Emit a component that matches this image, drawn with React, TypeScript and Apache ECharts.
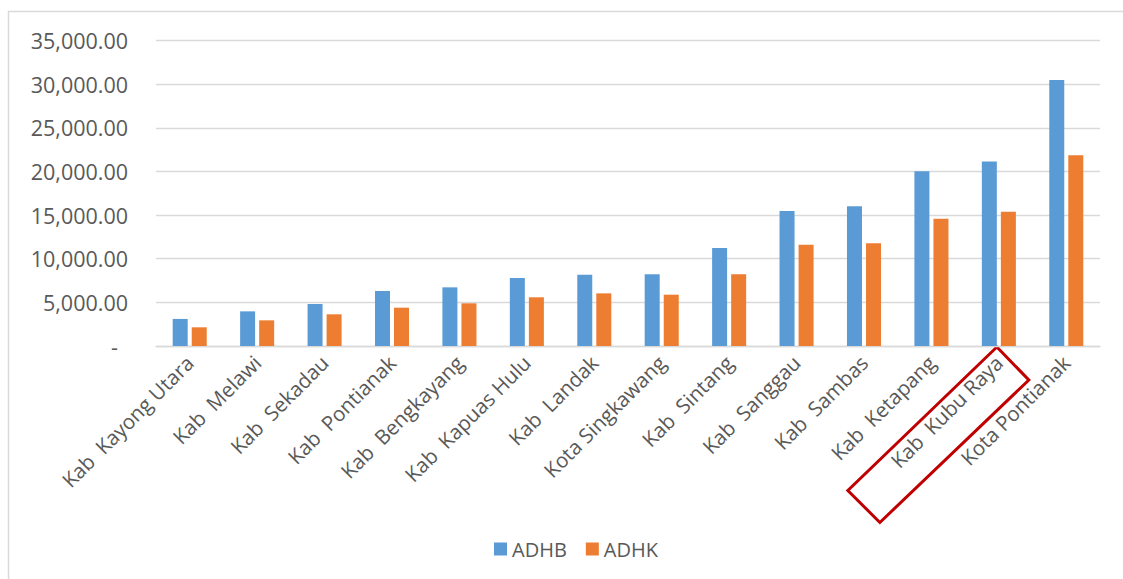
import React, { useEffect, useRef } from "react";
import * as echarts from "echarts";

// Regional GRDP per kabupaten/kota, current (ADHB) vs constant (ADHK) prices
const categories = [
  "Kab  Kayong Utara",
  "Kab  Melawi",
  "Kab  Sekadau",
  "Kab  Pontianak",
  "Kab  Bengkayang",
  "Kab  Kapuas Hulu",
  "Kab  Landak",
  "Kota Singkawang",
  "Kab  Sintang",
  "Kab  Sanggau",
  "Kab  Sambas",
  "Kab  Ketapang",
  "Kab  Kubu Raya",
  "Kota Pontianak",
];

const adhb = [3100, 3970, 4810, 6300, 6720, 7790, 8170, 8210, 11230, 15470, 16000, 20010, 21150, 30470];
const adhk = [2140, 2940, 3630, 4390, 4890, 5580, 6030, 5880, 8210, 11610, 11760, 14590, 15390, 21840];

const seriesNames = ["ADHB", "ADHK"];
const highlighted = "Kab  Kubu Raya";

const FONT = "'Open Sans', 'Noto Sans', sans-serif";
const TEXT = "#595959";
const GRID = "#D9D9D9";

function formatTick(v: number): string {
  if (v === 0) return "{dash|-}";
  return v.toLocaleString("en-US", { minimumFractionDigits: 2, maximumFractionDigits: 2 });
}

export default function App() {
  const ref = useRef<HTMLDivElement>(null);

  useEffect(() => {
    if (!ref.current) return;
    const chart = echarts.init(ref.current, null, { renderer: "svg" });
    chart.setOption({
      animation: false,
      backgroundColor: "#ffffff",
      textStyle: { fontFamily: FONT },
      grid: { left: 156, right: 23, top: 40.5, bottom: 233, containLabel: false },
      legend: {
        data: seriesNames,
        left: 489,
        top: 534,
        itemWidth: 13,
        itemHeight: 13,
        itemGap: 19,
        icon: "rect",
        textStyle: { color: TEXT, fontSize: 20, fontFamily: FONT },
      },
      xAxis: {
        type: "category",
        data: categories,
        axisLine: { lineStyle: { color: GRID, width: 1.3 } },
        axisTick: { show: false },
        axisLabel: {
          interval: 0,
          rotate: 45,
          margin: 13,
          color: TEXT,
          fontSize: 20.5,
          fontFamily: FONT,
        },
      },
      yAxis: {
        type: "value",
        min: 0,
        max: 35000,
        interval: 5000,
        axisLine: { show: false },
        axisTick: { show: false },
        splitLine: { lineStyle: { color: GRID, width: 1.3 } },
        axisLabel: {
          margin: 28,
          color: TEXT,
          fontSize: 21.5,
          fontFamily: FONT,
          formatter: formatTick,
          rich: { dash: { color: TEXT, fontSize: 21.5, fontFamily: FONT, padding: [0, 10, 0, 0] } },
        },
      },
      series: [
        {
          name: seriesNames[0],
          type: "bar",
          data: adhb,
          barWidth: 15,
          barGap: "27%",
          itemStyle: { color: "#5B9BD5" },
        },
        {
          name: seriesNames[1],
          type: "bar",
          data: adhk,
          barWidth: 15,
          itemStyle: { color: "#ED7D31" },
        },
      ],
    });

    // Chart frame and the red callout around the highlighted region label
    const cx = chart.convertToPixel({ xAxisIndex: 0 }, highlighted) as number;
    const y0 = chart.convertToPixel({ yAxisIndex: 0 }, 0) as number;
    chart.setOption({
      graphic: [
        {
          type: "rect",
          silent: true,
          shape: { x: 8.5, y: 11.5, width: 1300, height: 700 },
          style: { fill: "none", stroke: GRID, lineWidth: 1.5 },
        },
        {
          type: "polygon",
          silent: true,
          shape: {
            points: [
              [cx - 2, y0 + 1],
              [cx + 30, y0 + 34],
              [cx - 119, y0 + 176.5],
              [cx - 151, y0 + 144.5],
            ],
          },
          style: { fill: "none", stroke: "#C00000", lineWidth: 3 },
        },
      ],
    });

    return () => chart.dispose();
  }, []);

  return (
    <div
      ref={ref}
      style={{ position: "fixed", left: 0, top: 0, width: 1123, height: 579, background: "#fff" }}
    />
  );
}
